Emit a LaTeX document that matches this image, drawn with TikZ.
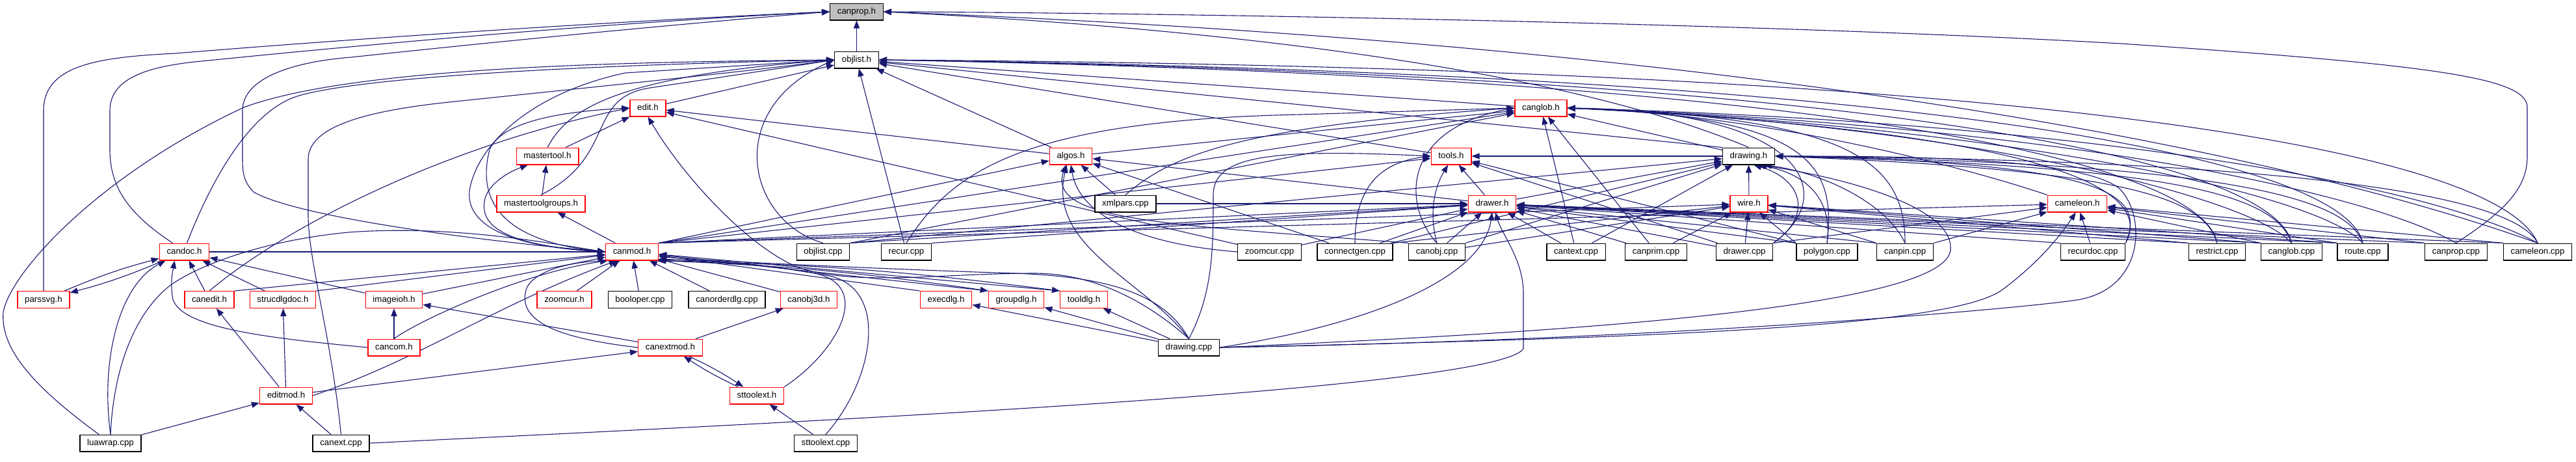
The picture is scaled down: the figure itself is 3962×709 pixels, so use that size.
\documentclass[tikz,border=0pt]{standalone}
\usepackage{fontspec}
\setmainfont{Liberation Sans}
\usepackage{tikz}
\usetikzlibrary{
    arrows.meta,
    backgrounds
}
\definecolor{edgeblue}{RGB}{25,25,112}
\definecolor{truncred}{RGB}{255,0,0}
\tikzset{
    file/.style={draw=black, line width=0.7pt, fill=white, inner xsep=5.6pt, inner ysep=0pt,
        minimum height=12.8pt, text height=4.9pt, text depth=1.3pt,
        font=\fontsize{6.65}{8}\selectfont},
    trunc/.style={file, draw=truncred},
    root/.style={file, fill=black!25},
    dep/.style={draw=edgeblue, line width=0.55pt, -{Triangle[length=6pt,width=4.6pt]}}
}
\begin{document}
\begin{tikzpicture}[x=0.5pt, y=-0.5pt]
                        \useasboundingbox (0, 0) rectangle (3962, 709);
                        \node[root] (cp) at (1317.5, 18) {canprop.h};
                        \node[file] (ol) at (1317.5, 92) {objlist.h};
                        \node[trunc] (edit) at (996.5, 166) {edit.h};
                        \node[trunc] (cglob) at (2370, 166) {canglob.h};
                        \node[trunc] (mtool) at (842, 240) {mastertool.h};
                        \node[trunc] (algos) at (1647, 240) {algos.h};
                        \node[trunc] (tools) at (2232, 240) {tools.h};
                        \node[file] (drawingh) at (2689.5, 240) {drawing.h};
                        \node[trunc] (mtg) at (832, 313) {mastertoolgroups.h};
                        \node[file] (xmlpars) at (1731, 313) {xmlpars.cpp};
                        \node[trunc] (drawer) at (2295, 313) {drawer.h};
                        \node[trunc] (wire) at (2690, 313) {wire.h};
                        \node[trunc] (cameleonh) at (3195, 313) {cameleon.h};
                        \node[trunc] (candoc) at (283.5, 387) {candoc.h};
                        \node[trunc] (canmod) at (972, 387) {canmod.h};
                        \node[file] (objlistcpp) at (1266, 387) {objlist.cpp};
                        \node[file] (recur) at (1394, 387) {recur.cpp};
                        \node[file] (zoomcurcpp) at (1952.5, 387) {zoomcur.cpp};
                        \node[file] (connectgen) at (2084, 387) {connectgen.cpp};
                        \node[file] (canobj) at (2210, 387) {canobj.cpp};
                        \node[file] (cantext) at (2424, 387) {cantext.cpp};
                        \node[file] (canprim) at (2547, 387) {canprim.cpp};
                        \node[file] (drawercpp) at (2683, 387) {drawer.cpp};
                        \node[file] (polygon) at (2810, 387) {polygon.cpp};
                        \node[file] (canpin) at (2930, 387) {canpin.cpp};
                        \node[file] (recurdoc) at (3219, 387) {recurdoc.cpp};
                        \node[file] (restrict) at (3410, 387) {restrict.cpp};
                        \node[file] (canglobcpp) at (3524.5, 387) {canglob.cpp};
                        \node[file] (route) at (3634, 387) {route.cpp};
                        \node[file] (canpropcpp) at (3777.5, 387) {canprop.cpp};
                        \node[file] (cameleoncpp) at (3903, 387) {cameleon.cpp};
                        \node[trunc] (parssvg) at (67, 460.5) {parssvg.h};
                        \node[trunc] (canedit) at (322, 460.5) {canedit.h};
                        \node[trunc] (strucdlgdoc) at (435, 460.5) {strucdlgdoc.h};
                        \node[trunc] (imageioh) at (606, 460.5) {imageioh.h};
                        \node[trunc] (zoomcurh) at (868, 460.5) {zoomcur.h};
                        \node[file] (booloper) at (984.5, 460.5) {booloper.cpp};
                        \node[file] (canorderdlg) at (1118, 460.5) {canorderdlg.cpp};
                        \node[trunc] (canobj3d) at (1244, 460.5) {canobj3d.h};
                        \node[trunc] (execdlg) at (1455, 460.5) {execdlg.h};
                        \node[trunc] (groupdlg) at (1563, 460.5) {groupdlg.h};
                        \node[trunc] (tooldlg) at (1667, 460.5) {tooldlg.h};
                        \node[trunc] (cancom) at (606, 534) {cancom.h};
                        \node[trunc] (canextmod) at (1031, 534) {canextmod.h};
                        \node[file] (drawingcpp) at (1828.5, 534) {drawing.cpp};
                        \node[trunc] (editmod) at (440, 608) {editmod.h};
                        \node[trunc] (sttoolext) at (1164, 608) {sttoolext.h};
                        \node[file] (luawrap) at (170, 681) {luawrap.cpp};
                        \node[file] (canext) at (524.5, 681) {canext.cpp};
                        \node[file] (sttoolextcpp) at (1270, 681) {sttoolext.cpp};
                        \begin{pgfonlayer}{background}
                        \foreach \src/\dst in {ol/cp, edit/ol, recur/ol, algos/ol, cglob/ol, tools/ol,
                            mtool/edit, algos/edit, zoomcurcpp/edit, mtg/mtool, canmod/mtg,
                            xmlpars/algos, drawer/algos, connectgen/algos, algos/cglob, cantext/cglob,
                            canprim/cglob, drawingh/cglob, drawer/tools, drawercpp/tools, drawingh/tools,
                            wire/drawingh, drawer/drawingh, cantext/drawingh, connectgen/drawingh,
                            canobj/drawingh, xmlpars/drawer, connectgen/drawer, canobj/drawer,
                            cantext/drawer, canprim/drawer, drawercpp/drawer, zoomcurcpp/drawer,
                            canobj/wire, canprim/wire, drawercpp/wire, recurdoc/cameleonh,
                            candoc/canmod, zoomcurh/canmod, booloper/canmod, canorderdlg/canmod,
                            canobj3d/canmod, imageioh/canmod, canedit/candoc, strucdlgdoc/candoc,
                            imageioh/candoc, editmod/canedit, editmod/strucdlgdoc, cancom/imageioh,
                            canextmod/imageioh, canextmod/canobj3d, editmod/canextmod, luawrap/editmod,
                            canext/editmod, sttoolextcpp/sttoolext, drawingcpp/execdlg,
                            drawingcpp/groupdlg, drawingcpp/tooldlg}
                            \draw[dep] (\src) -- (\dst);
                        \foreach \src/\dst in {polygon/drawer, polygon/wire, polygon/tools, canpin/drawer,
                            canpin/wire, recurdoc/drawer, restrict/drawer, restrict/wire,
                            canglobcpp/drawer, canglobcpp/wire, canglobcpp/cameleonh, route/drawer,
                            route/wire, route/cameleonh, canpropcpp/drawer, canpropcpp/cameleonh,
                            cameleoncpp/drawer, cameleoncpp/cameleonh, execdlg/canmod, groupdlg/canmod,
                            tooldlg/canmod, drawingh/ol}
                            \draw[dep] (\src.north west) -- (\dst);
                        \foreach \src/\dst in {canmod/algos, canmod/tools, canmod/cglob, canmod/drawer,
                            canmod/wire, canmod/cameleonh, objlistcpp/drawer, objlistcpp/drawingh,
                            objlistcpp/cglob, recur/drawer, canedit/canmod, strucdlgdoc/canmod,
                            connectgen/wire, canpin/cameleonh, drawercpp/cameleonh}
                            \draw[dep] (\src.north east) -- (\dst);
                        \draw[dep] (parssvg) to[bend left=4] (candoc);
                        \draw[dep] (candoc) to[bend left=4] (parssvg);
                        \draw[dep] (canextmod) to[bend left=4] (sttoolext);
                        \draw[dep] (sttoolext) to[bend left=4] (canextmod);
                        \draw[dep] (canmod.south east) to[bend left=3] (groupdlg.north west);
                        \draw[dep] (canmod.south east) to[bend left=3] (tooldlg.north west);
                        \draw[dep] (parssvg.north) -- (67, 170) .. controls (67, 100) and (150, 88) .. (270, 82)
                            .. controls (600, 55) and (1000, 30) .. (cp.west);
                        \draw[dep] ([xshift=-9pt]candoc.north) .. controls (200, 330) and (169, 290) .. (169, 230)
                            -- (169, 170) .. controls (169, 115) and (240, 100) .. (320, 93)
                            .. controls (700, 55) and (1000, 32) .. (cp.west);
                        \draw[dep] (canmod.west) .. controls (700, 367) and (450, 330) .. (390, 295)
                            .. controls (375, 280) and (373, 265) .. (373, 245) -- (373, 170)
                            .. controls (373, 120) and (450, 95) .. (540, 88)
                            .. controls (800, 60) and (1100, 32) .. (cp.west);
                        \draw[dep] (drawingh.north) .. controls (2450, 125) and (2000, 50) .. (cp.east);
                        \draw[dep] (canpropcpp.north) .. controls (3860, 320) and (3887, 285) .. (3887, 240)
                            -- (3887, 165) .. controls (3887, 120) and (3750, 100) .. (3262, 67)
                            .. controls (2700, 35) and (1800, 20) .. (cp.east);
                        \draw[dep] (cameleoncpp.north) .. controls (3500, 230) and (2700, 70) .. (cp.east);
                        \draw[dep] ([xshift=2pt]candoc.north) .. controls (320, 290) and (380, 170) .. (460, 147)
                            .. controls (560, 118) and (900, 100) .. (ol.west);
                        \draw[dep] ([xshift=-9pt]luawrap.north) .. controls (60, 600) and (0, 540) .. (5, 480)
                            .. controls (15, 420) and (150, 270) .. (375, 165)
                            .. controls (550, 100) and (1000, 95) .. (ol.west);
                        \draw[dep] (canext.north) .. controls (510, 520) and (474, 400) .. (474, 330) -- (474, 245)
                            .. controls (474, 195) and (560, 170) .. (700, 156)
                            .. controls (900, 135) and (1150, 110) .. (ol.west);
                        \draw[dep] (mtool.north) .. controls (870, 175) and (930, 118) .. (ol.west);
                        \draw[dep] (mtg.north) .. controls (950, 240) and (900, 150) .. (1000, 135)
                            .. controls (1100, 120) and (1200, 105) .. (ol.west);
                        \draw[dep] (canmod.west) .. controls (730, 378) and (712, 320) .. (725, 280)
                            .. controls (745, 210) and (830, 140) .. (962, 112) -- (ol.west);
                        \draw[dep] (objlistcpp.north) .. controls (1150, 340) and (1110, 170) .. (ol.west);
                        \draw[dep] (canmod.west) .. controls (760, 372) and (735, 300) .. (753, 230)
                            .. controls (770, 190) and (850, 172) .. (edit.west);
                        \draw[dep] (canmod.west) .. controls (770, 378) and (740, 345) .. (745, 310)
                            .. controls (748, 285) and (780, 265) .. ([xshift=-15pt]mtool.south);
                        \draw[dep] (canedit.north) .. controls (450, 340) and (700, 220) .. (edit.west);
                        \draw[dep] (luawrap.north) .. controls (155, 560) and (180, 440) .. ([xshift=5pt]candoc.south west);
                        \draw[dep] (luawrap.north) .. controls (175, 560) and (210, 480) .. (260, 440)
                            .. controls (300, 410) and (400, 370) .. (536, 357)
                            .. controls (700, 345) and (850, 375) .. (canmod.west);
                        \draw[dep] (cancom.west) .. controls (420, 520) and (270, 505) .. (265, 455)
                            .. controls (262, 430) and (266, 415) .. ([xshift=12pt]candoc.south west);
                        \draw[dep] (cancom.north) .. controls (640, 495) and (800, 420) .. (canmod.-160);
                        \draw[dep] (editmod.east) .. controls (650, 550) and (760, 470) .. (canmod.-150);
                        \draw[dep] (canextmod.west) .. controls (860, 520) and (800, 495) .. (808, 450)
                            .. controls (812, 420) and (870, 400) .. (canmod.-140);
                        \draw[dep] (sttoolext.north east) .. controls (1290, 540) and (1350, 430) .. (1240, 418)
                            .. controls (1150, 402) and (1060, 398) .. (canmod.-20);
                        \draw[dep] (sttoolextcpp.north) .. controls (1340, 590) and (1370, 450) .. (1280, 425)
                            .. controls (1200, 407) and (1060, 400) .. (canmod.-15);
                        \draw[dep] (drawingcpp.north) .. controls (1760, 460) and (1680, 420) .. (1590, 420)
                            .. controls (1450, 420) and (1320, 440) .. (1230, 412)
                            .. controls (1150, 380) and (1050, 270) .. (edit.south);
                        \draw[dep] (drawingcpp.north) .. controls (1790, 450) and (1700, 425) .. (1560, 420)
                            .. controls (1400, 415) and (1100, 402) .. (canmod.-10);
                        \draw[dep] (drawingcpp.north) .. controls (1760, 430) and (1610, 380) .. (algos.-115);
                        \draw[dep] (drawingcpp.north) .. controls (1866, 450) and (1866, 380) .. (1866, 300)
                            .. controls (1866, 240) and (1950, 228) .. (tools.west);
                        \draw[dep] (drawingcpp.east) .. controls (2100, 500) and (2280, 430) .. (drawer.south);
                        \draw[dep] (drawingcpp.east) .. controls (2300, 515) and (3010, 480) .. (3000, 380)
                            .. controls (3000, 320) and (2850, 275) .. (drawingh.-40);
                        \draw[dep] (drawingcpp.east) .. controls (2500, 520) and (3000, 505) .. (3080, 445)
                            .. controls (3140, 400) and (3170, 360) .. (cameleonh.-100);
                        \draw[dep] (drawingcpp.east) .. controls (2600, 522) and (3150, 470) .. (3200, 460)
                            .. controls (3300, 440) and (3300, 330) .. (3260, 290)
                            .. controls (3200, 240) and (2900, 240) .. (drawingh.east);
                        \draw[dep] (canext.east) .. controls (1200, 650) and (2300, 600) .. (2343, 536) -- (2343, 450)
                            .. controls (2343, 400) and (2310, 360) .. (drawer.-70);
                        \draw[dep] (canobj.north) .. controls (2160, 320) and (2150, 200) .. (cglob.west);
                        \draw[dep] (canobj.north) .. controls (2198, 330) and (2205, 290) .. (tools.-110);
                        \draw[dep] (canobj.north west) .. controls (1800, 345) and (1610, 340) .. (algos.-120);
                        \draw[dep] (connectgen.north) .. controls (2084, 290) and (2120, 250) .. (tools.west);
                        \draw[dep] (recur.north) .. controls (1460, 270) and (1560, 185) .. (2000, 176) -- (cglob.west);
                        \draw[dep] (xmlpars.north) .. controls (1800, 240) and (1900, 195) .. (cglob.west);
                        \draw[dep] (zoomcurcpp.west) .. controls (1750, 375) and (1660, 330) .. (algos.south);
                        \draw[dep] (cameleonh.north west) .. controls (3000, 250) and (2700, 175) .. (cglob.east);
                        \draw[dep] (drawercpp.north east) .. controls (2830, 300) and (2780, 170) .. (cglob.east);
                        \draw[dep] (polygon.north) .. controls (2825, 250) and (2780, 180) .. (cglob.east);
                        \draw[dep] (canpin.north) .. controls (2930, 250) and (2850, 180) .. (cglob.east);
                        \draw[dep] (recurdoc.north east) .. controls (3320, 280) and (3100, 200) .. (cglob.east);
                        \draw[dep] (canglobcpp.north) .. controls (3460, 300) and (3000, 190) .. (cglob.east);
                        \draw[dep] (route.north) .. controls (3570, 300) and (3100, 195) .. (cglob.east);
                        \draw[dep] (canpropcpp.north) .. controls (3650, 300) and (3200, 195) .. (cglob.east);
                        \draw[dep] (cameleoncpp.north) .. controls (3750, 290) and (3250, 190) .. (cglob.east);
                        \draw[dep] (drawercpp.north east) .. controls (2790, 330) and (2770, 275) .. (drawingh.-60);
                        \draw[dep] (polygon.north) .. controls (2820, 300) and (2770, 265) .. (drawingh.-45);
                        \draw[dep] (canpin.north) .. controls (2900, 310) and (2800, 265) .. (drawingh.-30);
                        \draw[dep] (recurdoc.north east) .. controls (3300, 300) and (3250, 250) .. (drawingh.east);
                        \draw[dep] (restrict.north) .. controls (3390, 300) and (3250, 260) .. (drawingh.east);
                        \draw[dep] (canglobcpp.north) .. controls (3500, 300) and (3350, 255) .. (drawingh.east);
                        \draw[dep] (route.north) .. controls (3610, 300) and (3400, 250) .. (drawingh.east);
                        \draw[dep] (cameleoncpp.north) .. controls (3860, 290) and (3450, 245) .. (drawingh.east);
                        \draw[dep] (restrict.north) .. controls (3390, 260) and (2900, 120) .. (ol.east);
                        \draw[dep] (canglobcpp.north) .. controls (3500, 260) and (3000, 118) .. (ol.east);
                        \draw[dep] (route.north) .. controls (3610, 260) and (3100, 115) .. (ol.east);
                        \draw[dep] (cameleoncpp.north) .. controls (3850, 250) and (3300, 105) .. (ol.east);
                        \end{pgfonlayer}
                    \end{tikzpicture}
\end{document}
